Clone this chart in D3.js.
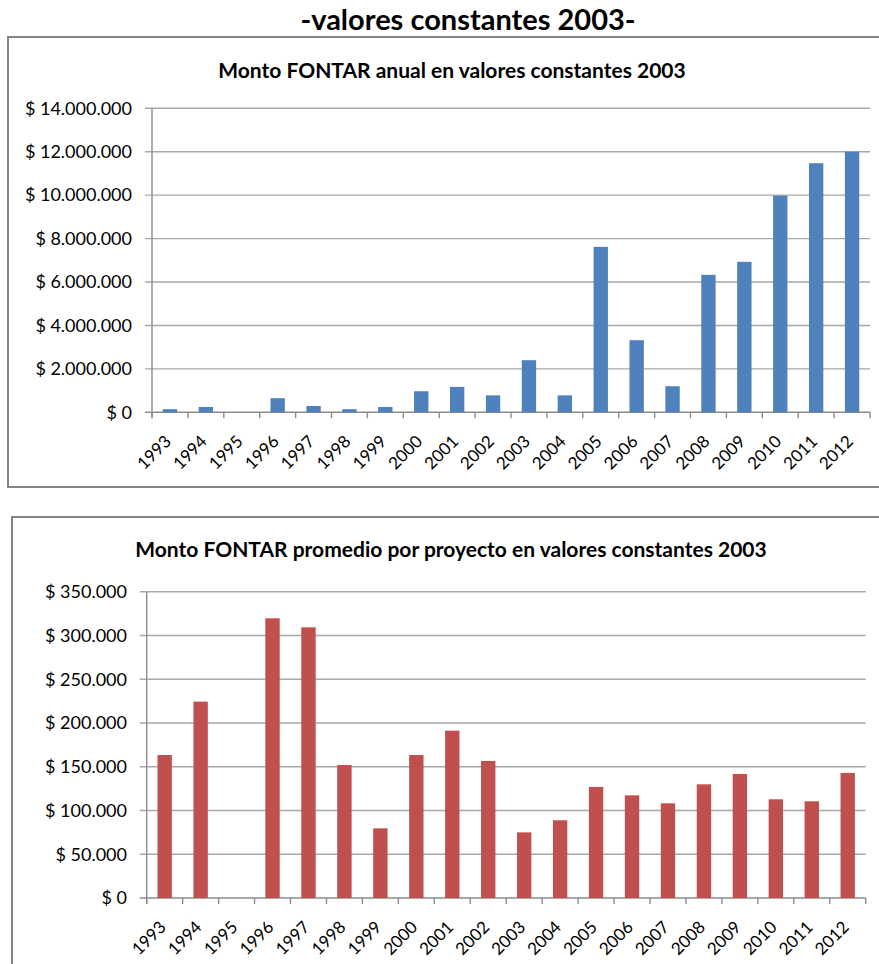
<!DOCTYPE html>
<html><head><meta charset="utf-8">
<script src="https://cdn.jsdelivr.net/npm/d3@7"></script>
<style>
html,body{margin:0;padding:0;background:#fff;}
svg{display:block;}
text{font-family:Lato,"Open Sans",sans-serif;fill:#000;}
</style></head><body>
<svg id="c" width="879" height="964"></svg>
<script>
const years = ["1993","1994","1995","1996","1997","1998","1999","2000","2001","2002","2003","2004","2005","2006","2007","2008","2009","2010","2011","2012"];
const montoAnual = [145000,245000,0,650000,290000,145000,245000,970000,1170000,780000,2400000,780000,7620000,3320000,1200000,6330000,6930000,9980000,11470000,12000000];
const montoPromedio = [163400,224400,0,319600,309300,152000,79600,163400,191200,156600,75000,88800,126900,117300,108200,129900,141700,112800,110500,142900];
const ticksAnual = [0,2000000,4000000,6000000,8000000,10000000,12000000,14000000];
const ticksPromedio = [0,50000,100000,150000,200000,250000,300000,350000];
const mainTitle = "-valores constantes 2003-";
const title1 = "Monto FONTAR anual en valores constantes 2003";
const title2 = "Monto FONTAR promedio por proyecto en valores constantes 2003";

const loc = d3.formatLocale({decimal:",", thousands:".", grouping:[3], currency:["$",""]});
const fmt = v => "$ " + loc.format(",")(v);

const svg = d3.select("#c");

svg.append("text").attr("x",468).attr("y",30).attr("text-anchor","middle")
  .style("font-size","29px").style("font-weight","bold").text(mainTitle);

function chart(cfg){
  const g = svg.append("g");
  g.append("rect").attr("x",cfg.box[0]).attr("y",cfg.box[1]).attr("width",cfg.box[2]).attr("height",cfg.box[3])
    .attr("fill","none").attr("stroke","#858585").attr("stroke-width",2);
  g.append("text").attr("x",cfg.titleX).attr("y",cfg.titleY).attr("text-anchor","middle")
    .style("font-size",cfg.titleSize+"px").style("font-weight","bold").text(cfg.title);
  const x = d3.scaleBand().domain(years).range([cfg.x0,cfg.x1]).paddingInner(0.6).paddingOuter(0.3);
  const y = d3.scaleLinear().domain([0,cfg.max]).range([cfg.yb,cfg.yt]);
  const off = (x.step()-x.bandwidth())/2;
  g.selectAll(".grid").data(cfg.ticks).join("line")
    .attr("x1",cfg.x0-7).attr("x2",cfg.x1).attr("y1",d=>y(d)).attr("y2",d=>y(d))
    .attr("stroke",d=>d===0?"#8c8c8c":"#a8a8a8").attr("stroke-width",1.4);
  g.append("line").attr("x1",cfg.x0).attr("x2",cfg.x0).attr("y1",cfg.yt).attr("y2",cfg.yb+6)
    .attr("stroke","#8c8c8c").attr("stroke-width",1.4);
  g.selectAll(".yl").data(cfg.ticks).join("text")
    .attr("x",cfg.labX).attr("y",d=>y(d)).attr("dy","0.35em").attr("text-anchor","end")
    .style("font-size",cfg.ySize+"px").text(fmt);
  g.selectAll(".bar").data(years.map((d,i)=>({k:d,v:cfg.values[i]}))).join("rect")
    .attr("x",d=>x(d.k)).attr("width",x.bandwidth())
    .attr("y",d=>y(d.v)).attr("height",d=>y(0)-y(d.v)).attr("fill",cfg.color);
  const bounds = years.map(d=>x(d)-off).concat([x(years[years.length-1])+x.bandwidth()+off]);
  g.selectAll(".xt").data(bounds).join("line")
    .attr("x1",d=>d).attr("x2",d=>d).attr("y1",cfg.yb).attr("y2",cfg.yb+6)
    .attr("stroke","#8c8c8c").attr("stroke-width",1.4);
  g.selectAll(".xl").data(years).join("text")
    .attr("text-anchor","end")
    .attr("transform",d=>`translate(${x(d)+x.bandwidth()/2-2},${cfg.yb+26}) rotate(-45)`)
    .attr("dy","0.35em")
    .style("font-size",cfg.xSize+"px").text(d=>d);
}

chart({box:[8,37,880,450], title:title1, titleX:452, titleY:78, titleSize:21,
  x0:152, x1:870, yt:108.3, yb:412.3, max:14000000, ticks:ticksAnual, values:montoAnual,
  color:"#4F81BD", labX:132, ySize:18, xSize:17});

chart({box:[12,517,880,460], title:title2, titleX:451, titleY:557, titleSize:21,
  x0:146.7, x1:865.7, yt:591.7, yb:898, max:350000, ticks:ticksPromedio, values:montoPromedio,
  color:"#C0504D", labX:127, ySize:18, xSize:17});
</script>
</body></html>
